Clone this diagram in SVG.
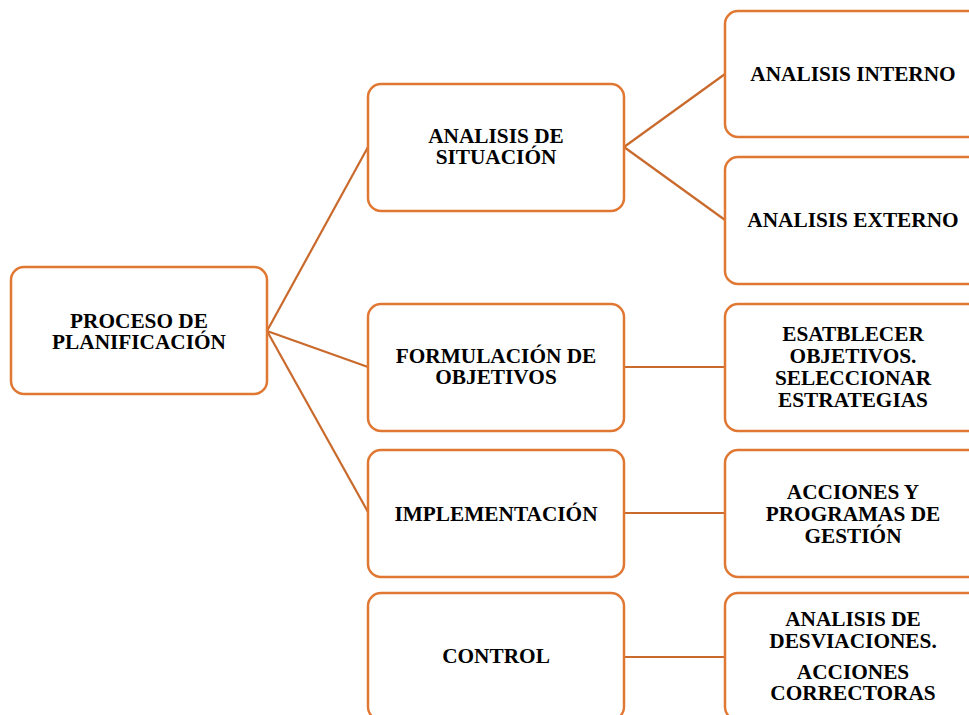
<svg xmlns="http://www.w3.org/2000/svg" width="969" height="715" viewBox="0 0 969 715">
  <style>
    .box { fill: #ffffff; stroke: #E07834; stroke-width: 2.5; }
    .link { stroke: #C96A2C; stroke-width: 2.2; fill: none; }
    .lbl { font-family: "Liberation Serif", "Times New Roman", serif; font-weight: bold; font-size: 21.3px; fill: #000000; text-anchor: middle; }
  </style>
  <rect width="969" height="715" fill="#ffffff"/>

  <!-- connectors -->
  <g id="connectors">
    <line class="link" x1="267" y1="331" x2="368" y2="147"/>
    <line class="link" x1="267" y1="331" x2="368" y2="367"/>
    <line class="link" x1="267" y1="331" x2="368" y2="512"/>
    <line class="link" x1="624" y1="147" x2="725" y2="74"/>
    <line class="link" x1="624" y1="147" x2="725" y2="220"/>
    <line class="link" x1="624" y1="367" x2="725" y2="367"/>
    <line class="link" x1="624" y1="513" x2="725" y2="513"/>
    <line class="link" x1="624" y1="657" x2="725" y2="657"/>
  </g>

  <!-- root -->
  <g id="proceso">
    <rect class="box" x="11" y="267" width="256" height="127" rx="13"/>
    <text class="lbl" x="139" y="328">PROCESO DE</text>
    <text class="lbl" x="139" y="349">PLANIFICACIÓN</text>
  </g>

  <!-- middle column -->
  <g id="situacion">
    <rect class="box" x="368" y="84" width="256" height="127" rx="13"/>
    <text class="lbl" x="496" y="143">ANALISIS DE</text>
    <text class="lbl" x="496" y="164">SITUACIÓN</text>
  </g>
  <g id="formulacion">
    <rect class="box" x="368" y="304" width="256" height="127" rx="13"/>
    <text class="lbl" x="496" y="363">FORMULACIÓN DE</text>
    <text class="lbl" x="496" y="384">OBJETIVOS</text>
  </g>
  <g id="implementacion">
    <rect class="box" x="368" y="450" width="256" height="127" rx="13"/>
    <text class="lbl" x="496" y="521">IMPLEMENTACIÓN</text>
  </g>
  <g id="control">
    <rect class="box" x="368" y="593" width="256" height="127" rx="13"/>
    <text class="lbl" x="496" y="663">CONTROL</text>
  </g>

  <!-- right column -->
  <g id="interno">
    <rect class="box" x="725" y="11" width="256" height="126" rx="13"/>
    <text class="lbl" x="853" y="81">ANALISIS INTERNO</text>
  </g>
  <g id="externo">
    <rect class="box" x="725" y="157" width="256" height="127" rx="13"/>
    <text class="lbl" x="853" y="227">ANALISIS EXTERNO</text>
  </g>
  <g id="objetivos">
    <rect class="box" x="725" y="304" width="256" height="127" rx="13"/>
    <text class="lbl" x="853" y="341">ESATBLECER</text>
    <text class="lbl" x="853" y="363">OBJETIVOS.</text>
    <text class="lbl" x="853" y="385">SELECCIONAR</text>
    <text class="lbl" x="853" y="407">ESTRATEGIAS</text>
  </g>
  <g id="acciones">
    <rect class="box" x="725" y="450" width="256" height="127" rx="13"/>
    <text class="lbl" x="853" y="499">ACCIONES Y</text>
    <text class="lbl" x="853" y="521">PROGRAMAS DE</text>
    <text class="lbl" x="853" y="543">GESTIÓN</text>
  </g>
  <g id="desviaciones">
    <rect class="box" x="725" y="593" width="256" height="127" rx="13"/>
    <text class="lbl" x="853" y="626">ANALISIS DE</text>
    <text class="lbl" x="853" y="648">DESVIACIONES.</text>
    <text class="lbl" x="853" y="679">ACCIONES</text>
    <text class="lbl" x="853" y="700">CORRECTORAS</text>
  </g>
</svg>
